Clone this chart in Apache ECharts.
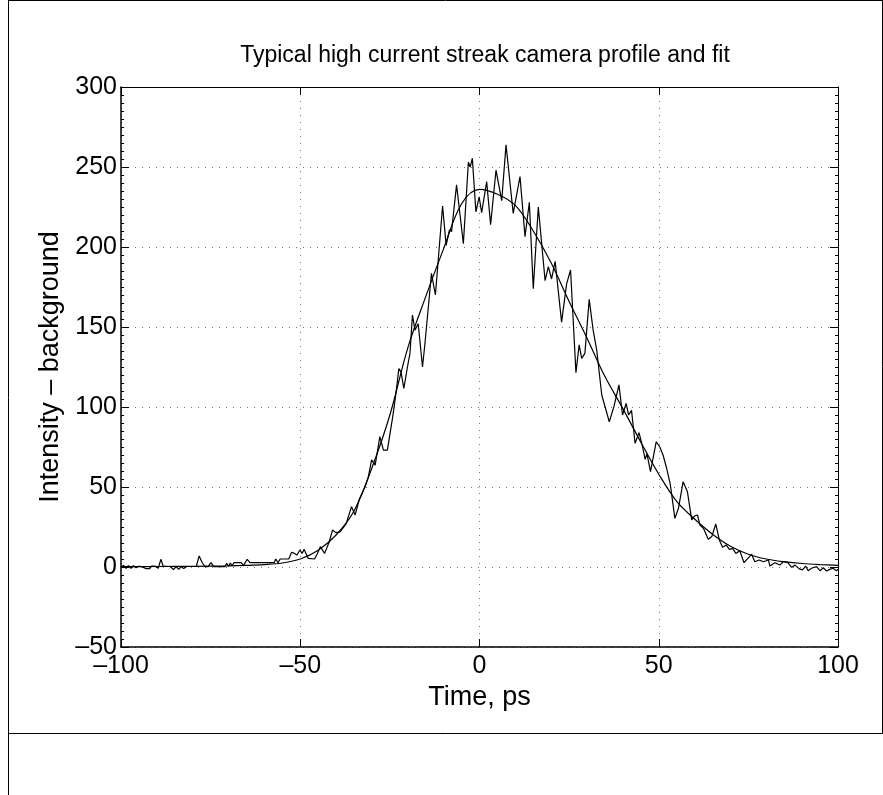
<!DOCTYPE html>
<html>
<head>
<meta charset="utf-8">
<title>Streak camera profile</title>
<script src="https://cdn.jsdelivr.net/npm/echarts@6/dist/echarts.min.js"></script>
<style>
  html, body { margin: 0; padding: 0; background: #fff; }
  #chart { width: 883px; height: 795px; }
</style>
</head>
<body>
<div id="chart"></div>
<script>
const profileTime = [
  -100, -99.3, -98.6, -97.9, -97.2, -96.5, -95.8, -95, -94, -93, -92, -91.5, -90.5, -89.6, -88.9, -88.2,
  -87, -86.2, -85.4, -84.6, -83.9, -83.2, -82.5, -81.7, -80, -79, -78.2, -77.3, -76.5, -75.7, -74.9, -74.1,
  -72, -71, -70.5, -70, -69.5, -69, -68.5, -66.5, -65.8, -64.8, -64, -61, -58, -57.3, -56.8, -56.2,
  -55.6, -53.2, -52.4, -51.6, -50.9, -50.1, -49.5, -48.9, -47.8, -46, -45.2, -44.4, -43.2, -41.9, -41, -40.1,
  -38.9, -37.2, -35.7, -34.7, -33.5, -31.9, -31, -30.1, -29.1, -27.8, -26.8, -25.7, -24.2, -23.3, -22.5, -21.9,
  -21.1, -20.1, -19.4, -18.7, -18, -17.1, -15.9, -15.2, -13.4, -12.3, -10.3, -9.3, -8.4, -7.8, -6.4, -4.5,
  -3.1, -2.6, -2, -1, -0.1, 0.6, 2, 3.1, 4.6, 6.2, 7.4, 9.4, 11.3, 12.7, 13.9, 15,
  16.4, 18.3, 19.2, 20.1, 21.1, 22.9, 24.3, 24.8, 25.4, 26.9, 27.8, 28.5, 29.4, 30.6, 31.7, 32.7,
  34.1, 36.2, 37.5, 38, 38.9, 39.9, 40.9, 41.6, 42.4, 43.4, 44.5, 45.5, 46.2, 46.7, 47.7, 49.3,
  50.3, 51.2, 52.2, 53.2, 54.5, 55.5, 56.8, 58, 59.2, 60, 60.8, 61.5, 62.5, 63.8, 64.8, 65.9,
  66.9, 67.8, 68.8, 69.7, 70.6, 71.5, 72.6, 73.8, 74.6, 75.9, 76.8, 78, 79.2, 80.6, 81, 82.4,
  83.8, 84.7, 86, 87.1, 88, 89.2, 90.1, 91, 91.7, 92.6, 94, 95, 95.9, 96.8, 97.7, 98.6,
  99.6, 100
];
const profileValue = [
  0, 1, -0.8, 0.8, -0.8, 0.8, -0.5, 0.5, 0, -1, -1, 0.5, 0.5, -0.8, 4.8, 0.5,
  0.3, 0.3, -1.6, 0.3, -1.5, 0.3, -1, 0.3, 0.3, 0.3, 6.9, 2.5, 0.2, 0.2, 2.7, 0.2,
  0.2, 0.2, 2.3, 0.5, 2.5, 0.8, 2.7, 2.7, 1, 4.8, 2.7, 2.7, 2.7, 2.7, 5, 2.7,
  5, 5, 9.2, 8.5, 7.5, 10.6, 8.5, 11, 5.4, 5, 8.5, 12.7, 8.5, 15.8, 23.1, 21.5,
  22, 27, 37.7, 32.5, 42.5, 50.2, 56.4, 66.9, 63.7, 81.5, 73.1, 73.1, 94, 108.5, 124, 122,
  111.7, 125, 133.5, 157.5, 148, 152, 125, 140, 183.5, 170, 225.6, 201, 210.6, 209.6, 238.8, 202,
  253, 250, 255.4, 222, 231.4, 221.5, 240.8, 214, 248, 229, 263.8, 221, 244, 206.5, 228, 174,
  225, 179, 187.7, 180, 191, 153, 177, 178, 185.6, 121.5, 138.8, 130.4, 133.5, 167.3, 148, 135.6,
  107.5, 90.8, 100.2, 99, 113.8, 95, 102.3, 95, 98, 77.3, 84, 75, 67.3, 70.8, 59.6, 78.3,
  75, 70, 61.7, 52, 30.4, 36.7, 53.3, 47, 29.4, 31.9, 32.5, 26.2, 24, 17.3, 19, 26.9,
  16.9, 12.3, 13.7, 11, 11.6, 8.5, 10.2, 2.7, 4.8, 7.9, 3.3, 4.4, 3.3, 4.4, 0.6, 2.7,
  1.2, 3.3, 2.7, -0.2, 1.2, -1.2, -1.8, 0.5, -2.3, -0.8, 0.2, -2.3, -0.5, -2.5, -1.5, -0.8,
  -2.3, -1.5
];

// fitted curve, read at 5 ps steps
const fitTime = [
  -100, -90, -80, -70, -65, -60, -55, -50, -45, -40, -35, -30, -25, -20, -15, -10, -5,
  0, 5, 10, 15, 20, 25, 30, 35, 40, 45, 50, 55, 60, 65, 70, 75, 80, 85, 90, 95, 100
];
const fitValue = [
  0.2, 0.3, 0.4, 0.7, 1, 1.5, 2.5, 5, 10.5, 20, 35, 62, 95, 137, 169, 199, 227,
  236, 233, 226, 210, 190, 166, 143, 119, 99, 78, 58, 41, 30, 20.5, 13, 8, 5, 3.3, 2.2, 1.5, 1
];

const xTicks = { min: -100, max: 100, interval: 50 };
const yTicks = { min: -50, max: 300, interval: 50 };

const FONT = "'Liberation Sans', Arial, Helvetica, sans-serif";

function tickLabel(v) {
  return v < 0 ? "\u2013" + Math.abs(v) : String(v);
}

function zip(xs, ys) {
  return xs.map((x, i) => [x, ys[i]]);
}

const chart = echarts.init(document.getElementById("chart"), null, { renderer: "canvas" });

const tickFont = { color: "#000", fontSize: 25, fontFamily: FONT };
const nameFont = { color: "#000", fontSize: 27, fontFamily: FONT };
const gridLine = { show: true, lineStyle: { color: "#777", type: [1, 6], width: 1 } };
const majorTick = { show: true, inside: true, length: 8, lineStyle: { color: "#000" } };
const minorTick = { show: true, splitNumber: 10, length: 3, lineStyle: { color: "#000" } };
const mirrorAxis = {
  axisLine: { show: true, onZero: false, lineStyle: { color: "#000", width: 1 } },
  axisTick: majorTick,
  axisLabel: { show: false },
  splitLine: { show: false },
};

chart.setOption({
  backgroundColor: "#fff",
  animation: false,
  title: {
    text: "Typical high current streak camera profile and fit",
    left: 480,
    textAlign: "center",
    top: 39,
    textStyle: { color: "#000", fontSize: 23, fontWeight: "normal", fontFamily: FONT },
  },
  grid: { left: 121, right: 45, top: 87, bottom: 148 },
  xAxis: [
    {
      type: "value",
      ...xTicks,
      name: "Time, ps",
      nameLocation: "middle",
      nameGap: 35,
      nameTextStyle: nameFont,
      axisLine: { show: true, onZero: false, lineStyle: { color: "#000", width: 1.5 } },
      axisTick: majorTick,
      axisLabel: { ...tickFont, margin: 7, formatter: tickLabel },
      splitLine: gridLine,
    },
    { type: "value", position: "top", ...xTicks, ...mirrorAxis },
  ],
  yAxis: [
    {
      type: "value",
      ...yTicks,
      name: "Intensity \u2013 background",
      nameLocation: "middle",
      nameGap: 55,
      nameTextStyle: nameFont,
      axisLine: { show: true, onZero: false, lineStyle: { color: "#000", width: 1.5 } },
      axisTick: majorTick,
      minorTick: minorTick,
      axisLabel: { ...tickFont, margin: 4, formatter: tickLabel },
      splitLine: gridLine,
    },
    { type: "value", position: "right", ...yTicks, ...mirrorAxis, minorTick: minorTick },
  ],
  series: [
    {
      name: "profile",
      type: "line",
      data: zip(profileTime, profileValue),
      showSymbol: false,
      lineStyle: { color: "#000", width: 1.2 },
      z: 3,
    },
    {
      name: "fit",
      type: "line",
      data: zip(fitTime, fitValue),
      smooth: 0.35,
      showSymbol: false,
      lineStyle: { color: "#000", width: 1.2 },
      z: 4,
    },
  ],
  graphic: [
    // figure frame
    { type: "line", shape: { x1: 8.5, y1: 0.5, x2: 882.5, y2: 0.5 }, style: { stroke: "#000", lineWidth: 1 } },
    { type: "line", shape: { x1: 8.5, y1: 0, x2: 8.5, y2: 795 }, style: { stroke: "#000", lineWidth: 1 } },
    { type: "line", shape: { x1: 882.5, y1: 0, x2: 882.5, y2: 733.5 }, style: { stroke: "#000", lineWidth: 1 } },
    { type: "line", shape: { x1: 8.5, y1: 733.5, x2: 883, y2: 733.5 }, style: { stroke: "#000", lineWidth: 1 } },
  ],
});
</script>
</body>
</html>
